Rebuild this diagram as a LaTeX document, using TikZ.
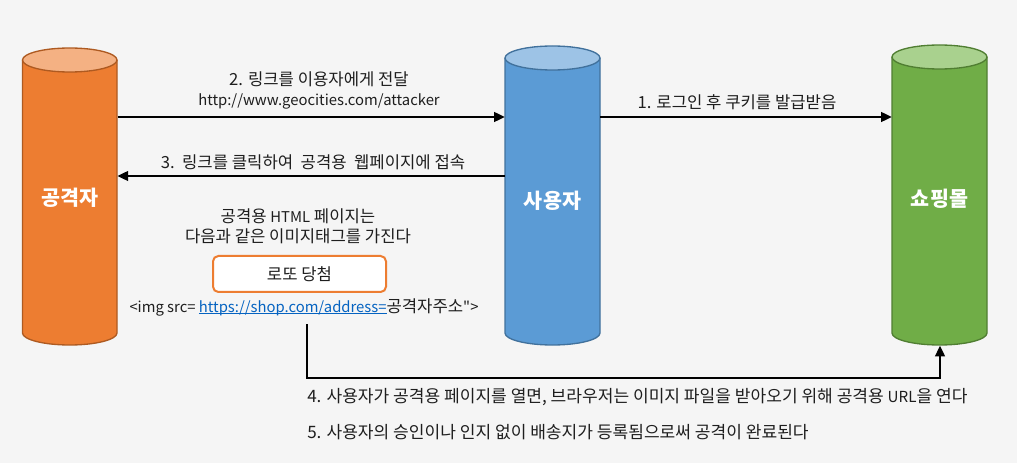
\documentclass[tikz,border=0pt]{standalone}
\usepackage{fontspec}
\setmainfont{Noto Sans CJK KR}
\newfontfamily\latfont[Scale=0.89]{Noto Sans CJK KR}
\newcommand{\lat}[1]{{\latfont #1}}
\newcommand{\myul}[1]{\leavevmode\setbox0=\hbox{#1}\rlap{\rule[-1.6pt]{\wd0}{0.6pt}}\box0}
\usetikzlibrary{arrows.meta,calc}
\definecolor{bg}{HTML}{F5F5F5}
\definecolor{orbody}{HTML}{ED7D31}
\definecolor{ortop}{HTML}{F4B183}
\definecolor{orline}{HTML}{AE5A21}
\definecolor{blbody}{HTML}{5B9BD5}
\definecolor{bltop}{HTML}{9DC3E6}
\definecolor{blline}{HTML}{41719C}
\definecolor{grbody}{HTML}{70AD47}
\definecolor{grtop}{HTML}{A9D18E}
\definecolor{grline}{HTML}{507E32}
\definecolor{linkblue}{HTML}{0563C1}
\definecolor{txt}{HTML}{1E1E1E}
\newcommand{\drawcyl}[7]{%
  \path[fill=#5,draw=#7,line width=1pt] (#1,#3) -- (#1,#4)
    arc[start angle=180,end angle=0,x radius={(#2-#1)/2},y radius=12] -- (#2,#3);
  \path[fill=#6,draw=#7,line width=1pt] ({(#1+#2)/2},#3) ellipse[x radius={(#2-#1)/2},y radius=12];
}
\begin{document}
\begin{tikzpicture}[x=0.75pt,y=-0.75pt,
  cyl/.style={inner sep=0pt,minimum width=71.25pt,anchor=base,text=white,font=\fontsize{15.5}{18}\selectfont\bfseries},
  lbl/.style={inner sep=0pt,text=txt,font=\fontsize{12.5}{15}\selectfont,align=center},
  big/.style={font=\fontsize{12.8}{15}\selectfont},
  conn/.style={line width=1pt,-{Triangle[length=8pt,width=7.5pt]}}]
\fill[bg] (0,0) rectangle (1017,463);
\useasboundingbox (0,0) rectangle (1017,463);
% cylinders
\drawcyl{22.5}{117}{60}{333}{orbody}{ortop}{orline}
\drawcyl{505}{600}{58}{333}{blbody}{bltop}{blline}
\drawcyl{892}{987}{57}{333}{grbody}{grtop}{grline}
\node[cyl,text height=117.75pt,text depth=105pt] (att) at (69.75,205.5) {공격자};
\node[cyl,text height=121.5pt,text depth=102.75pt] (usr) at (552.5,208.5) {사용자};
\node[cyl,text height=120.75pt,text depth=104.25pt] (shop) at (939.5,206.5) {쇼핑몰};
% helper coordinates
\coordinate (r1) at (0,117);
\coordinate (r3) at (0,176);
\coordinate (p4) at (307,324);
\coordinate (q4) at (940,378);
% connectors
\draw[conn] (att.east |- r1) -- (usr.west |- r1);
\draw[conn] (usr.east |- r1) -- (shop.west |- r1);
\draw[conn] (usr.west |- r3) -- (att.east |- r3);
\draw[conn] (p4) |- (q4) -- (q4 |- shop.south);
% labels
\node[lbl] (t2) at (319,90) {2. 링크를 이용자에게 전달\\\lat{http://www.geocities.com/attacker}};
\node[lbl] (t1) at (737,102) {1. 로그인 후 쿠키를 발급받음};
\node[lbl] (t3) at (313,162) {3.\ \ 링크를 클릭하여\ \ 공격용\ \ 웹페이지에 접속};
\node[lbl] (th) at (298,226) {공격용 \lat{HTML} 페이지는\\다음과 같은 이미지태그를 가진다};
\node[lbl,draw=orbody,line width=1.5pt,rounded corners=4pt,fill=white,minimum width=129.75pt,minimum height=27pt] (box) at (299.5,274) {로또 당첨};
\node[lbl] (timg) at (304,307) {\lat{<img src= \textcolor{linkblue}{\myul{https://shop.com/address=}}}공격자주소\lat{\symbol{34}>}};
\node[lbl,big,anchor=west] (t4) at (307,397) {4. 사용자가 공격용 페이지를 열면, 브라우저는 이미지 파일을 받아오기 위해 공격용 \lat{URL}을 연다};
\node[lbl,big,anchor=west] (t5) at (307,432) {5. 사용자의 승인이나 인지 없이 배송지가 등록됨으로써 공격이 완료된다};
\end{tikzpicture}
\end{document}
